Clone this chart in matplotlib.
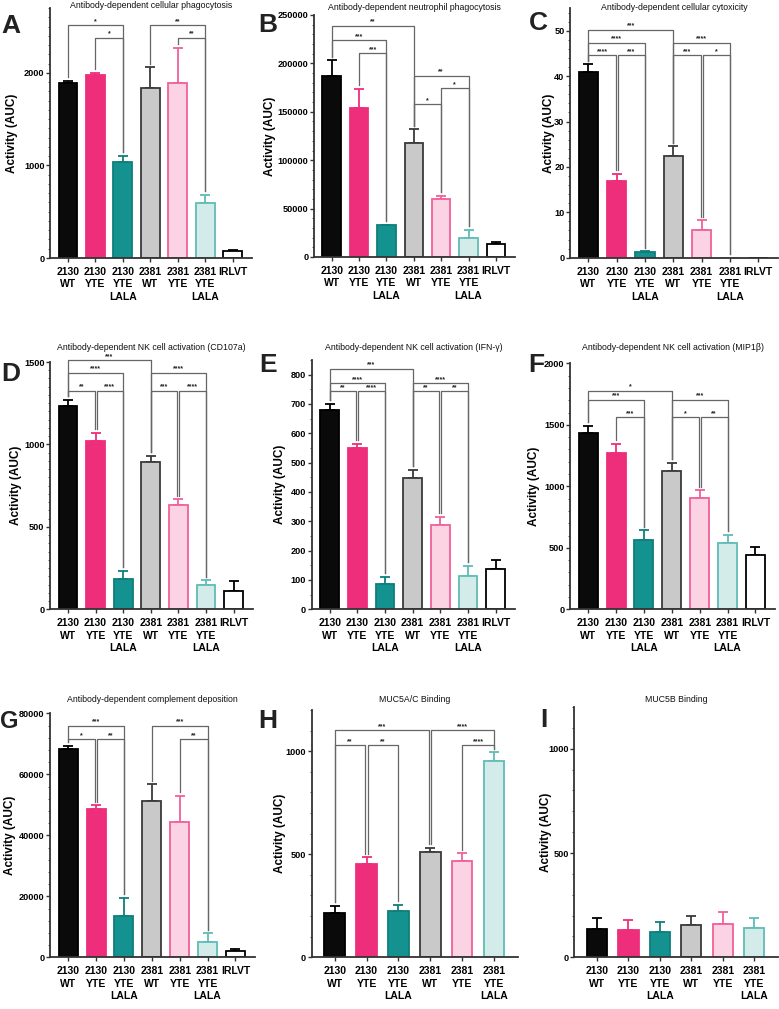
import matplotlib
matplotlib.use("Agg")
import matplotlib.pyplot as plt
from matplotlib.ticker import MultipleLocator

plt.rcParams['font.family'] = ['Liberation Sans']

# ---------------- data ----------------
labels7 = ["2130\nWT", "2130\nYTE", "2130\nYTE\nLALA", "2381\nWT", "2381\nYTE", "2381\nYTE\nLALA", "IRLVT"]

A_vals = [1890, 1978, 1035, 1840, 1890, 590, 75]
A_sem = [25, 22, 65, 220, 380, 90, 15]
B_vals = [187000, 154000, 33000, 118000, 60000, 20000, 13500]
B_sem = [16000, 19500, 500, 14000, 3000, 8000, 2500]
C_vals = [41.0, 16.8, 1.2, 22.5, 6.0, 0, 0]
C_sem = [1.6, 1.7, 0.2, 2.0, 2.2, 0, 0]
D_vals = [1236, 1018, 183, 896, 632, 148, 114]
D_sem = [34, 51, 50, 35, 35, 27, 57]
E_vals = [680, 550, 86, 448, 287, 114, 139]
E_sem = [21, 14, 25, 28, 28, 35, 29]
F_vals = [1436, 1268, 566, 1127, 903, 543, 443]
F_sem = [54, 76, 75, 65, 63, 62, 67]
G_vals = [68300, 48700, 13700, 51400, 44200, 4900, 2200]
G_sem = [1000, 1100, 5700, 5300, 8700, 3000, 400]
H_vals = [213, 451, 225, 509, 468, 953]
H_sem = [36, 34, 29, 22, 36, 41]
I_vals = [135, 129, 121, 153, 158, 140]
I_sem = [53, 51, 48, 43, 59, 48]

A_sig = [(0, 2, 2514, '*'), (1, 2, 2380, '*'), (3, 5, 2514, '**'), (4, 5, 2380, '**')]
B_sig = [(0, 3, 239000, '**'), (0, 2, 224000, '***'), (1, 2, 210400, '***'),
         (3, 5, 187300, '**'), (4, 5, 174300, '*'), (3, 4, 157700, '*')]
C_sig = [(0, 3, 50.2, '***'), (0, 2, 47.3, '****'), (0, 1, 44.6, '****'), (1, 2, 44.6, '***'),
         (3, 5, 47.3, '****'), (3, 4, 44.6, '***'), (4, 5, 44.6, '*')]
D_sig = [(0, 3, 1510, '***'), (0, 2, 1433, '****'), (0, 1, 1327, '**'), (1, 2, 1327, '****'),
         (3, 5, 1433, '****'), (3, 4, 1327, '***'), (4, 5, 1327, '****')]
E_sig = [(0, 3, 820, '***'), (0, 2, 771, '****'), (0, 1, 743, '**'), (1, 2, 743, '****'),
         (3, 5, 771, '****'), (3, 4, 743, '**'), (4, 5, 743, '**')]
F_sig = [(0, 3, 1778, '*'), (0, 2, 1702, '***'), (1, 2, 1561, '***'),
         (3, 5, 1702, '***'), (3, 4, 1561, '*'), (4, 5, 1561, '**')]
G_sig = [(0, 2, 75850, '***'), (0, 1, 71470, '*'), (1, 2, 71470, '**'),
         (3, 5, 75850, '***'), (4, 5, 71470, '**')]
H_sig = [(0, 3, 1102, '***'), (3, 5, 1102, '****'), (0, 1, 1029, '**'), (1, 2, 1029, '**'),
         (4, 5, 1029, '****')]
I_sig = []

titles = ["Antibody-dependent cellular phagocytosis",
          "Antibody-dependent neutrophil phagocytosis",
          "Antibody-dependent cellular cytoxicity",
          "Antibody-dependent NK cell activation (CD107a)",
          "Antibody-dependent NK cell activation (IFN-\u03b3)",
          "Antibody-dependent NK cell activation (MIP1\u03b2)",
          "Antibody-dependent complement deposition",
          "MUC5A/C Binding",
          "MUC5B Binding"]
letters = list("ABCDEFGHI")

# ---------------- styles ----------------
fills = ['#0a0a0a', '#ee2e7b', '#139290', '#c9c9c9', '#fbd3e2', '#d3ecea', '#ffffff']
edges = ['#000000', '#ee2e7b', '#0f7f7c', '#3a3a3a', '#f0609a', '#5fbcb7', '#000000']

W, H = 779, 1009
fig = plt.figure(figsize=(W / 100, H / 100), dpi=100)

# pixel boxes: left, right, top, bottom
boxes = [(50, 252, 8, 258), (314, 515, 15, 257), (570, 778, 8, 257.7),
         (50, 253, 362, 609.3), (311.7, 515, 360, 609.3), (570, 775, 363.3, 609.3),
         (50, 255, 713.3, 957.3), (311.7, 518, 710, 957.3), (574.3, 778, 707, 957.3)]
ylabel_x = [18, 276, 555, 22, 286, 540, 16, 286, 552]
ylims = [2700, 250000, 55, 1500, 850, 2000, 80000, 1200, 1200]
majors = [1000, 50000, 10, 500, 100, 500, 20000, 500, 500]
minors = [100, 10000, 2, 50, 50, 100, 4000, 100, 100]
data = [(A_vals, A_sem, A_sig), (B_vals, B_sem, B_sig), (C_vals, C_sem, C_sig),
        (D_vals, D_sem, D_sig), (E_vals, E_sem, E_sig), (F_vals, F_sem, F_sig),
        (G_vals, G_sem, G_sig), (H_vals, H_sem, H_sig), (I_vals, I_sem, I_sig)]
title_y = [6, 7, 7, 347, 348, 348, 700, 700, 700]
letter_pos = [(1, 33), (258, 32), (529, 30), (1, 381), (259, 372), (528, 372),
              (0, 728), (258, 728), (540, 727)]

for k in range(9):
    l, r, t, b = boxes[k]
    ax = fig.add_axes([l / W, 1 - b / H, (r - l) / W, (b - t) / H])
    vals, sem, sig = data[k]
    n = len(vals)
    xs = list(range(n))
    width = 0.68 if n == 7 else 0.64
    ax.bar(xs, vals, width=width, color=fills[:n], edgecolor=edges[:n], linewidth=1.3, zorder=2)
    for i in range(n):
        if sem[i] > 0:
            ax.errorbar(xs[i], vals[i], yerr=[[0], [sem[i]]], fmt='none', ecolor=edges[i],
                        elinewidth=1.3, capsize=3.5, capthick=1.3, zorder=1)
    ymax = ylims[k]
    ax.set_ylim(0, ymax)
    if n == 7:
        ax.set_xlim(-0.65, 6.7)
    else:
        ax.set_xlim(-0.72, 5.75)
    ax.yaxis.set_major_locator(MultipleLocator(majors[k]))
    ax.yaxis.set_minor_locator(MultipleLocator(minors[k]))
    ax.set_xticks(xs)
    ax.set_xticklabels(labels7[:n], fontsize=7.5, fontweight='bold', linespacing=1.3)
    for lab in ax.get_yticklabels():
        lab.set_fontweight('bold')
    ax.tick_params(axis='y', labelsize=6.6, length=3, width=1, pad=1, color='#333333')
    ax.tick_params(axis='y', which='minor', length=1.8, width=0.7, color='#555555')
    ax.tick_params(axis='x', length=3, width=1, pad=3.5, color='#333333')
    for s in ['top', 'right']:
        ax.spines[s].set_visible(False)
    for s in ['left', 'bottom']:
        ax.spines[s].set_linewidth(1.3)
        ax.spines[s].set_color('#333333')
    ax.set_ylabel("Activity (AUC)", fontsize=8.5, fontweight='bold')
    ax.yaxis.set_label_coords((ylabel_x[k] - l) / (r - l), 0.5)

    # significance brackets
    gap = 0.015 * ymax
    tops = [vals[i] + sem[i] for i in range(n)]
    for (i, j, h, txt) in sig:
        xl = i + (0.035 if any(s2[1] == i and abs(s2[2] - h) < 1e-9 for s2 in sig) else 0)
        xr = j - (0.035 if any(s2[0] == j and abs(s2[2] - h) < 1e-9 for s2 in sig) else 0)
        ax.plot([xl, xl, xr, xr], [tops[i] + gap, h, h, tops[j] + gap],
                color='#666666', lw=0.9, clip_on=False, zorder=3)
        ax.annotate(txt, ((xl + xr) / 2, h), xytext=(0, 0.3), textcoords='offset points',
                    ha='center', va='bottom', fontsize=5, fontweight='bold',
                    color='#222222', annotation_clip=False)

    fig.text((l + r) / 2 / W, 1 - title_y[k] / H, titles[k], ha='center', va='center',
             fontsize=6.3, color='#111111')
    lx, ly = letter_pos[k]
    fig.text(lx / W, 1 - ly / H, letters[k], ha='left', va='baseline',
             fontsize=17 if letters[k] == 'G' else 19,
             fontweight='bold', color='#222222')

fig.savefig("out.png", dpi=100)
